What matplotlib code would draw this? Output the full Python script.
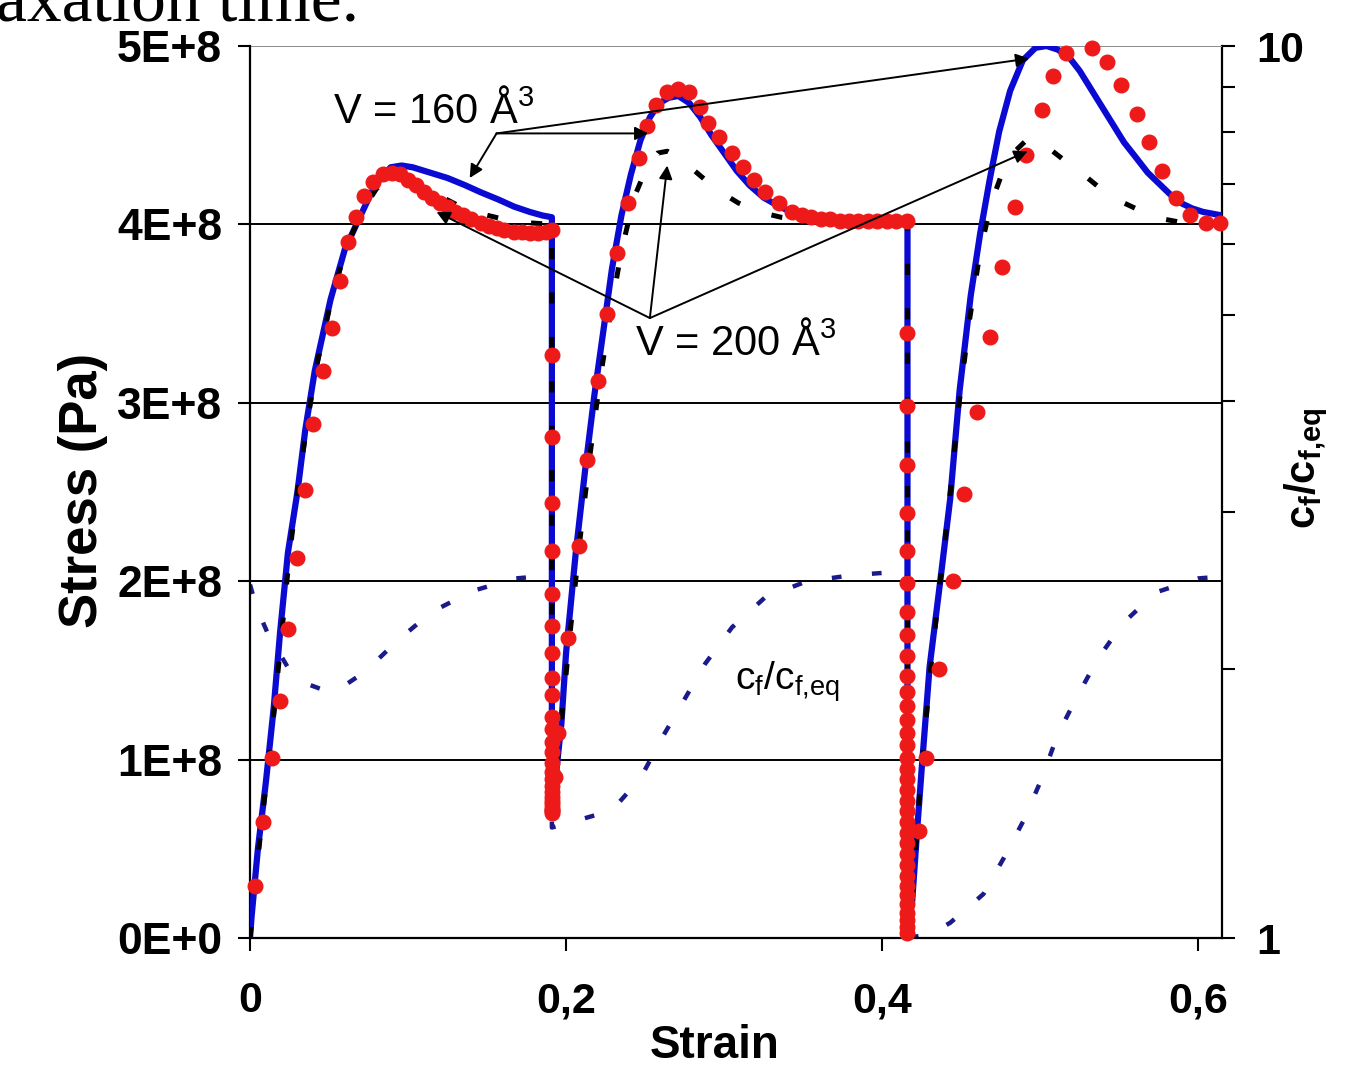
import matplotlib
matplotlib.use("Agg")
import matplotlib.pyplot as plt
from matplotlib.ticker import NullFormatter

plt.rcParams['font.family'] = ['Liberation Sans', 'DejaVu Sans']
plt.rcParams['mathtext.fontset'] = 'custom'
plt.rcParams['mathtext.rm'] = 'Liberation Sans'
plt.rcParams['mathtext.it'] = 'Liberation Sans'
plt.rcParams['mathtext.bf'] = 'Liberation Sans:bold'
plt.rcParams['mathtext.default'] = 'regular'
plt.rcParams['lines.scale_dashes'] = False

# ---------------- data ----------------
# Blue solid stress curve (Pa, in units of 1E+8)
blue_strain = [0.000, 0.001, 0.005, 0.010, 0.015, 0.019, 0.024, 0.030, 0.035, 0.041,
               0.051, 0.060, 0.070, 0.079, 0.089, 0.096, 0.103, 0.114, 0.125, 0.136,
               0.146, 0.157, 0.167, 0.177, 0.185, 0.191,
               0.191, 0.194, 0.197, 0.200, 0.206, 0.212, 0.218, 0.224, 0.229, 0.235,
               0.241, 0.247, 0.253, 0.259, 0.265, 0.271, 0.278, 0.285, 0.292, 0.300,
               0.308, 0.316, 0.325, 0.335, 0.345, 0.360, 0.380, 0.400, 0.416,
               0.416, 0.419, 0.422, 0.425, 0.430, 0.437, 0.443, 0.449, 0.456, 0.462,
               0.468, 0.474, 0.481, 0.489, 0.497, 0.504, 0.511, 0.518, 0.525, 0.532,
               0.539, 0.546, 0.553, 0.561, 0.568, 0.575, 0.582, 0.589, 0.596, 0.603,
               0.609, 0.615]
blue_stress = [0.00, 0.12, 0.50, 0.87, 1.29, 1.71, 2.16, 2.50, 2.85, 3.18,
               3.58, 3.86, 4.05, 4.22, 4.32, 4.33, 4.32, 4.29, 4.26, 4.22,
               4.18, 4.14, 4.10, 4.07, 4.05, 4.04,
               0.68, 0.95, 1.20, 1.60, 2.15, 2.62, 3.05, 3.43, 3.75, 4.05,
               4.28, 4.47, 4.60, 4.68, 4.71, 4.72, 4.68, 4.60, 4.50, 4.40,
               4.30, 4.22, 4.15, 4.10, 4.06, 4.03, 4.02, 4.02, 4.02,
               0.02, 0.21, 0.59, 0.95, 1.52, 2.02, 2.46, 3.07, 3.60, 3.95,
               4.25, 4.52, 4.75, 4.92, 4.99, 5.00, 4.98, 4.94, 4.86, 4.76,
               4.66, 4.56, 4.46, 4.37, 4.29, 4.23, 4.17, 4.12, 4.09, 4.07,
               4.06, 4.05]

# Black dashed stress curve
black_strain = [0.000, 0.005, 0.010, 0.015, 0.020, 0.025, 0.030, 0.036, 0.042, 0.050,
                0.060, 0.070, 0.080, 0.090, 0.098, 0.108, 0.120, 0.133, 0.146, 0.160,
                0.175, 0.191,
                0.191, 0.194, 0.198, 0.203, 0.209, 0.215, 0.221, 0.228, 0.235, 0.243,
                0.251, 0.258, 0.264, 0.272, 0.280, 0.288, 0.298, 0.309, 0.322, 0.336,
                0.355, 0.380, 0.416,
                0.416, 0.420, 0.424, 0.430, 0.436, 0.442, 0.448, 0.455, 0.462, 0.469,
                0.476, 0.484, 0.491, 0.497, 0.505, 0.518, 0.530, 0.541, 0.553, 0.565,
                0.578, 0.590, 0.603, 0.615]
black_stress = [0.00, 0.45, 0.85, 1.25, 1.70, 2.15, 2.50, 2.88, 3.20, 3.52,
                3.85, 4.06, 4.20, 4.27, 4.27, 4.22, 4.16, 4.10, 4.06, 4.03,
                4.01, 4.00,
                0.68, 0.95, 1.30, 1.75, 2.25, 2.70, 3.10, 3.50, 3.85, 4.15,
                4.32, 4.40, 4.41, 4.37, 4.31, 4.25, 4.18, 4.12, 4.07, 4.04,
                4.02, 4.01, 4.01,
                0.02, 0.35, 0.85, 1.45, 1.95, 2.40, 2.95, 3.45, 3.85, 4.12,
                4.29, 4.41, 4.47, 4.48, 4.43, 4.34, 4.26, 4.18, 4.12, 4.07,
                4.03, 4.01, 4.00, 4.00]

# Red circles stress
red_strain = [0.003, 0.008, 0.014, 0.019, 0.024, 0.030, 0.035, 0.040, 0.046, 0.052,
              0.057, 0.062, 0.067, 0.072, 0.078, 0.084, 0.090, 0.095, 0.100, 0.105,
              0.110, 0.115, 0.120, 0.125, 0.130, 0.135, 0.140, 0.146, 0.151, 0.156,
              0.161, 0.167, 0.172, 0.177, 0.182, 0.187, 0.191,
              0.191, 0.191, 0.191, 0.191, 0.191, 0.191, 0.191, 0.191, 0.191, 0.191,
              0.191, 0.191, 0.191, 0.191, 0.191, 0.191, 0.191, 0.191, 0.191, 0.191,
              0.191, 0.191, 0.191, 0.191, 0.191,
              0.193, 0.195, 0.201, 0.208, 0.213, 0.220, 0.226, 0.232, 0.239, 0.246,
              0.251, 0.257, 0.264, 0.271, 0.278, 0.285, 0.290, 0.297, 0.305, 0.312,
              0.319, 0.326, 0.335, 0.343, 0.349, 0.355, 0.361, 0.367, 0.373, 0.379,
              0.385, 0.391, 0.397, 0.403, 0.409, 0.416,
              0.416, 0.416, 0.416, 0.416, 0.416, 0.416, 0.416, 0.416, 0.416, 0.416,
              0.416, 0.416, 0.416, 0.416, 0.416, 0.416, 0.416, 0.416, 0.416, 0.416,
              0.416, 0.416, 0.416, 0.416, 0.416, 0.416, 0.416, 0.416, 0.416, 0.416,
              0.416, 0.416, 0.416, 0.416,
              0.423, 0.428, 0.436, 0.445, 0.452, 0.460, 0.468, 0.476, 0.484, 0.491,
              0.501, 0.508, 0.516, 0.533, 0.542, 0.551, 0.561, 0.569, 0.577, 0.586,
              0.595, 0.605, 0.614]
red_stress = [0.29, 0.65, 1.01, 1.33, 1.73, 2.13, 2.51, 2.88, 3.18, 3.42,
              3.68, 3.90, 4.04, 4.16, 4.24, 4.28, 4.29, 4.28, 4.25, 4.22,
              4.18, 4.15, 4.12, 4.10, 4.07, 4.05, 4.03, 4.01, 3.99, 3.98,
              3.97, 3.96, 3.955, 3.95, 3.95, 3.96, 3.97,
              3.27, 2.81, 2.44, 2.17, 1.93, 1.75, 1.60, 1.46, 1.36, 1.24,
              1.17, 1.10, 1.04, 0.98, 0.93, 0.89, 0.85, 0.82, 0.79, 0.77,
              0.75, 0.73, 0.72, 0.71, 0.70,
              0.90, 1.15, 1.68, 2.20, 2.68, 3.12, 3.50, 3.84, 4.12, 4.37,
              4.55, 4.67, 4.74, 4.76, 4.74, 4.66, 4.57, 4.49, 4.40, 4.32,
              4.25, 4.18, 4.12, 4.07, 4.05, 4.04, 4.03, 4.03, 4.02, 4.02,
              4.02, 4.02, 4.02, 4.02, 4.02, 4.02,
              3.39, 2.98, 2.65, 2.38, 2.17, 1.99, 1.83, 1.70, 1.58, 1.47,
              1.38, 1.30, 1.22, 1.15, 1.08, 1.01, 0.95, 0.89, 0.83, 0.77,
              0.71, 0.65, 0.59, 0.53, 0.47, 0.41, 0.35, 0.29, 0.24, 0.19,
              0.14, 0.10, 0.06, 0.03,
              0.60, 1.01, 1.51, 2.00, 2.49, 2.95, 3.37, 3.76, 4.10, 4.39,
              4.64, 4.83, 4.96, 4.99, 4.91, 4.78, 4.62, 4.46, 4.30, 4.15,
              4.05, 4.01, 4.01]

# c_f / c_f,eq (right axis, log scale)
cf_strain = [0.000, 0.004, 0.011, 0.024, 0.035, 0.049, 0.060, 0.073, 0.094, 0.115,
             0.141, 0.168, 0.191,
             0.191, 0.204, 0.229, 0.247, 0.261, 0.274, 0.288, 0.305, 0.326, 0.352,
             0.380, 0.405, 0.416,
             0.416, 0.430, 0.443, 0.464, 0.477, 0.490, 0.501, 0.511, 0.523, 0.536,
             0.552, 0.573, 0.600, 0.612]
cf_ratio = [2.49, 2.35, 2.20, 2.01, 1.93, 1.89, 1.92, 1.99, 2.16, 2.32,
            2.45, 2.53, 2.55,
            1.33, 1.35, 1.39, 1.51, 1.68, 1.84, 2.03, 2.23, 2.41, 2.51,
            2.55, 2.57, 2.57,
            1.00, 1.01, 1.04, 1.12, 1.23, 1.36, 1.51, 1.69, 1.86, 2.05,
            2.25, 2.44, 2.53, 2.54]

stress_unit = 1e8
x_ticks = [0.0, 0.2, 0.4, 0.6]
x_ticklabels = ["0", "0,2", "0,4", "0,6"]
y_ticks = [0, 1, 2, 3, 4, 5]
y_ticklabels = ["0E+0", "1E+8", "2E+8", "3E+8", "4E+8", "5E+8"]
r_ticks = [1, 10]
r_ticklabels = ["1", "10"]
r_minor = [2, 3, 4, 5, 6, 7, 8, 9]

# ---------------- figure ----------------
W, H = 1362, 1070
fig = plt.figure(figsize=(W / 100, H / 100), dpi=100)
L, R, T, B = 250, 1222, 46, 938
ax = fig.add_axes([L / W, 1 - B / H, (R - L) / W, (B - T) / H])
ax2 = ax.twinx()
ax.set_zorder(ax2.get_zorder() + 1)
ax.patch.set_visible(False)

BLUE = '#0a0ad2'
NAVY = '#1a1a8a'
RED = '#ee1a1a'

ax2.plot(cf_strain, cf_ratio, color=NAVY, lw=3.2, dashes=(7, 22), solid_capstyle='butt')
ax2.set_yscale('log')
ax2.set_ylim(1, 10)

ax.plot(blue_strain, [v * stress_unit for v in blue_stress], color=BLUE, lw=4.5, zorder=3)
ax.plot(black_strain, [v * stress_unit for v in black_stress], color='black', lw=3.6,
        dashes=(8, 24), zorder=4)
ax.plot(red_strain, [v * stress_unit for v in red_stress], 'o', color=RED, ms=10.5,
        mec=RED, zorder=5, clip_on=False)

ax.set_xlim(0, 0.615)
ax.set_ylim(0, 5 * stress_unit)

ax.set_xticks(x_ticks)
ax.set_xticklabels(x_ticklabels, fontsize=31, fontweight='bold')
ax.set_yticks([v * stress_unit for v in y_ticks])
ax.set_yticklabels(y_ticklabels, fontsize=32, fontweight='bold')
ax.tick_params(axis='both', direction='out', length=9, width=1.5, color='black')
ax.tick_params(axis='y', pad=11)
ax.tick_params(axis='x', pad=22)

ax.yaxis.grid(True, color='black', lw=1.4)
ax.get_ygridlines()[-1].set_color('#8a8a8a')
ax.set_axisbelow(True)

for s in ['top', 'right']:
    ax.spines[s].set_visible(False)
for s in ['left', 'bottom']:
    ax.spines[s].set_linewidth(1.6)
for s in ['left', 'top', 'bottom']:
    ax2.spines[s].set_visible(False)
ax2.spines['right'].set_linewidth(1.6)

ax2.set_yticks(r_ticks)
ax2.set_yticklabels(r_ticklabels, fontsize=31, fontweight='bold')
ax2.set_yticks(r_minor, minor=True)
ax2.yaxis.set_minor_formatter(NullFormatter())
ax2.tick_params(axis='y', which='both', direction='out', length=9, width=1.5, pad=16)

fig.text(715 / W, 1 - 1046 / H, 'Strain', fontsize=33, fontweight='bold',
         ha='center', va='center')
fig.text(83 / W, 1 - 490 / H, 'Stress (Pa)', fontsize=38, fontweight='bold',
         rotation=90, ha='center', va='center')
fig.text(1306 / W, 1 - 468 / H, 'c$_{f}$/c$_{f{,}eq}$', fontsize=30, fontweight='bold',
         rotation=90, ha='center', va='center')

# annotations
arrow_kw = dict(arrowstyle='-|>', color='black', lw=1.4, mutation_scale=20,
                shrinkA=0, shrinkB=0)
ax.text(0.0525, 4.57 * stress_unit, 'V = 160 Å$^{3}$', fontsize=30)
o160 = (0.156, 4.51 * stress_unit)
for tgt in [(0.139, 4.26), (0.252, 4.51), (0.493, 4.93)]:
    ax.annotate('', xy=(tgt[0], tgt[1] * stress_unit), xytext=o160, arrowprops=arrow_kw,
                zorder=6)
ax.text(0.2437, 3.27 * stress_unit, 'V = 200 Å$^{3}$', fontsize=30)
o200 = (0.253, 3.475 * stress_unit)
for tgt in [(0.118, 4.07), (0.264, 4.33), (0.492, 4.41)]:
    ax.annotate('', xy=(tgt[0], tgt[1] * stress_unit), xytext=o200, arrowprops=arrow_kw,
                zorder=6)
ax.text(0.307, 1.39 * stress_unit, 'c$_{f}$/c$_{f{,}eq}$', fontsize=28)

fig.text(-0.003, 1 - 21 / H, 'axation time.', family='Liberation Serif', fontsize=50,
         va='baseline', ha='left')

fig.savefig('out.png', dpi=100)
